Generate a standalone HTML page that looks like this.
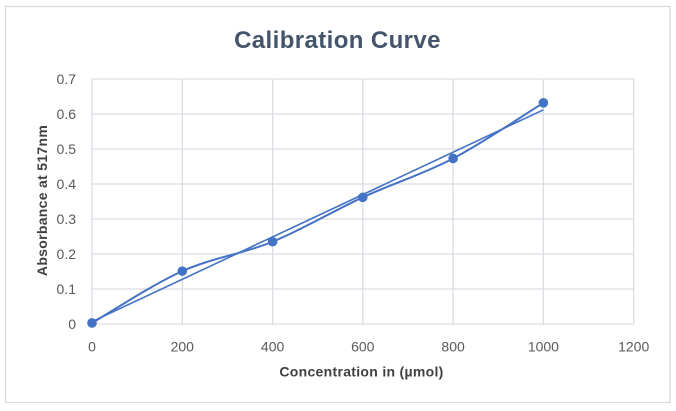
<!DOCTYPE html>
<html>
<head>
<meta charset="utf-8">
<style>
html,body{margin:0;padding:0;background:#fff;}
svg{display:block;}
text{font-family:"Liberation Sans",Arial,sans-serif;}
</style>
</head>
<body>
<svg width="676" height="411" viewBox="0 0 676 411" xmlns="http://www.w3.org/2000/svg">
<rect x="0" y="0" width="676" height="411" fill="#fff"/>
<rect x="5.5" y="6.5" width="664.5" height="396" fill="#fff" stroke="#d9d9d9" stroke-width="1.2"/>
<text x="337.5" y="48" text-anchor="middle" font-size="24" font-weight="bold" fill="#44546a" letter-spacing="0.4">Calibration  Curve</text>
<g stroke="#d9dde3" stroke-width="1.3" fill="none">
<line x1="92" y1="79" x2="633.7" y2="79"/>
<line x1="92" y1="114" x2="633.7" y2="114"/>
<line x1="92" y1="149" x2="633.7" y2="149"/>
<line x1="92" y1="184" x2="633.7" y2="184"/>
<line x1="92" y1="219" x2="633.7" y2="219"/>
<line x1="92" y1="254" x2="633.7" y2="254"/>
<line x1="92" y1="289" x2="633.7" y2="289"/>
<line x1="92" y1="324" x2="633.7" y2="324"/>
<line x1="92" y1="79" x2="92" y2="324"/>
<line x1="182.3" y1="79" x2="182.3" y2="324"/>
<line x1="272.6" y1="79" x2="272.6" y2="324"/>
<line x1="362.8" y1="79" x2="362.8" y2="324"/>
<line x1="453.1" y1="79" x2="453.1" y2="324"/>
<line x1="543.4" y1="79" x2="543.4" y2="324"/>
<line x1="633.7" y1="79" x2="633.7" y2="324"/>
</g>
<g font-size="14" fill="#595959" text-anchor="end">
<text x="76" y="84">0.7</text>
<text x="76" y="119">0.6</text>
<text x="76" y="154">0.5</text>
<text x="76" y="189">0.4</text>
<text x="76" y="224">0.3</text>
<text x="76" y="259">0.2</text>
<text x="76" y="294">0.1</text>
<text x="76" y="329">0</text>
</g>
<g font-size="14" fill="#595959" text-anchor="middle">
<text x="92" y="351.5">0</text>
<text x="182.3" y="351.5">200</text>
<text x="272.6" y="351.5">400</text>
<text x="362.8" y="351.5">600</text>
<text x="453.1" y="351.5">800</text>
<text x="543.4" y="351.5">1000</text>
<text x="633.7" y="351.5">1200</text>
</g>
<text x="361.5" y="376.5" text-anchor="middle" font-size="14" font-weight="bold" fill="#404040" letter-spacing="0.3">Concentration in (µmol)</text>
<text transform="translate(47,200.5) rotate(-90)" x="0" y="0" text-anchor="middle" font-size="14" font-weight="bold" fill="#404040" letter-spacing="0.3">Absorbance at 517nm</text>
<line x1="92" y1="321.7" x2="543.4" y2="109.8" stroke="#4472c4" stroke-width="1.6"/>
<path d="M92,322.95 C107.05,314.32 152.2,284.68 182.3,271.15 C212.4,257.62 242.52,254.06 272.6,241.75 C302.68,229.44 332.72,211.18 362.8,197.3 C392.88,183.42 423.0,174.2 453.1,158.45 C483.2,142.7 528.35,112.08 543.4,102.8" fill="none" stroke="#4472c4" stroke-width="2"/>
<g fill="#4472c4">
<circle cx="92" cy="322.95" r="4.8"/>
<circle cx="182.3" cy="271.15" r="4.8"/>
<circle cx="272.6" cy="241.75" r="4.8"/>
<circle cx="362.8" cy="197.3" r="4.8"/>
<circle cx="453.1" cy="158.45" r="4.8"/>
<circle cx="543.4" cy="102.8" r="4.8"/>
</g>
</svg>
</body>
</html>
